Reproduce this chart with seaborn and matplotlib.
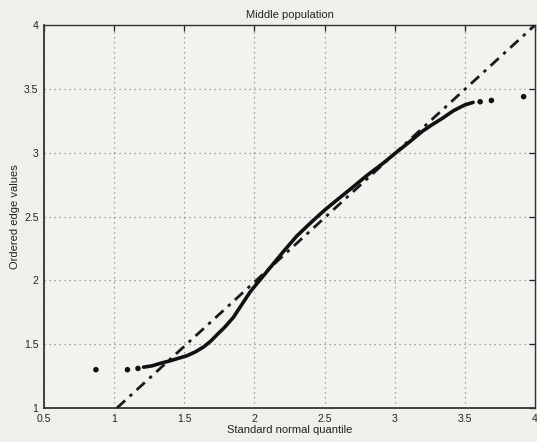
import matplotlib
matplotlib.use("Agg")
import matplotlib.pyplot as plt
import seaborn as sns
import pandas as pd

# Ordered edge values against standard normal quantiles (dense part of the curve)
quantile = [1.21, 1.27, 1.33, 1.40, 1.46, 1.52, 1.58, 1.64, 1.69, 1.73, 1.79,
            1.85, 1.91, 1.97, 2.03, 2.09, 2.15, 2.21, 2.30, 2.40, 2.50, 2.60,
            2.69, 2.80, 2.92, 3.02, 3.10, 3.20, 3.26, 3.34, 3.42, 3.50, 3.56]
edge = [1.32, 1.33, 1.35, 1.37, 1.39, 1.41, 1.44, 1.48, 1.525, 1.57, 1.635,
        1.71, 1.81, 1.91, 1.99, 2.07, 2.15, 2.23, 2.345, 2.45, 2.55, 2.64,
        2.72, 2.82, 2.92, 3.01, 3.08, 3.17, 3.215, 3.27, 3.33, 3.375, 3.395]

# Isolated points in the tails
tail_quantile = [0.87, 1.095, 1.17, 3.61, 3.69, 3.92]
tail_edge = [1.30, 1.30, 1.31, 3.40, 3.41, 3.44]

# Reference line endpoints
ref_quantile = [1.02, 4.0]
ref_edge = [1.0, 4.0]

x_ticks = [0.5, 1, 1.5, 2, 2.5, 3, 3.5, 4]
y_ticks = [1, 1.5, 2, 2.5, 3, 3.5, 4]

sns.set_theme(style="white")
plt.rcParams["font.family"] = ["Liberation Sans", "DejaVu Sans"]

bg = "#eef0ea"
fig = plt.figure(figsize=(5.37, 4.42), dpi=100, facecolor=bg)
ax = fig.add_axes([0.082, 0.077, 0.914, 0.866])
ax.set_facecolor("#f1f3ee")

curve = pd.DataFrame({"q": quantile, "v": edge})
tails = pd.DataFrame({"q": tail_quantile, "v": tail_edge})
ref = pd.DataFrame({"q": ref_quantile, "v": ref_edge})

sns.lineplot(data=ref, x="q", y="v", ax=ax, color="#1a1a1a", linewidth=2.0,
             linestyle=(0, (4, 2.2, 1.2, 2.2)), zorder=3)
sns.lineplot(data=curve, x="q", y="v", ax=ax, color="#111111", linewidth=2.6,
             sort=False, zorder=4)
sns.scatterplot(data=tails, x="q", y="v", ax=ax, color="#111111", s=16,
                edgecolor="none", zorder=4)

ax.set_xlim(0.5, 4)
ax.set_ylim(1, 4)
ax.set_xticks(x_ticks)
ax.set_yticks(y_ticks)
ax.set_xticklabels([f"{t:g}" for t in x_ticks])
ax.set_yticklabels([f"{t:g}" for t in y_ticks])
ax.tick_params(direction="in", length=4, width=0.9, labelsize=7.5,
               top=True, right=True, colors="#222222", pad=4)

ax.grid(True, linestyle=(0, (1, 3)), color="#8a8a8a", linewidth=0.9)
for s in ax.spines.values():
    s.set_color("#333333")
    s.set_linewidth(1.0)
ax.spines["left"].set_linewidth(1.3)
ax.spines["bottom"].set_linewidth(1.3)

ax.set_title("Middle population", fontsize=8, color="#222222", pad=5)
ax.set_xlabel("Standard normal quantile", fontsize=8, color="#222222", labelpad=1)
ax.set_ylabel("Ordered edge values", fontsize=8, color="#222222", labelpad=3)

fig.savefig("out.png", dpi=100, facecolor=bg)
